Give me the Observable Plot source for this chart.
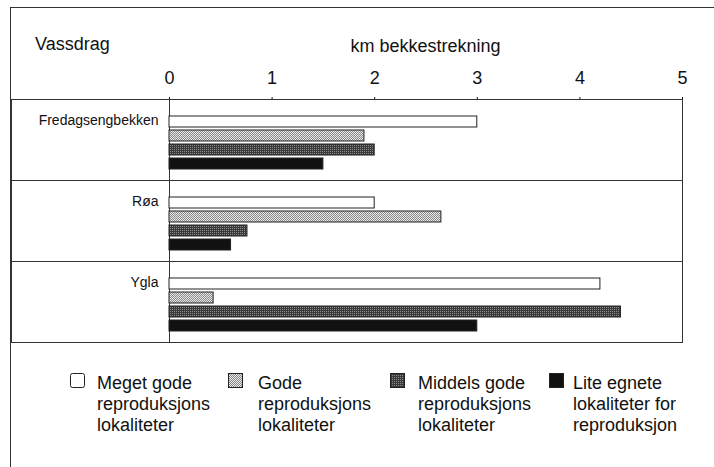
<!DOCTYPE html>
<html>
<head>
<meta charset="utf-8">
<script src="https://cdn.jsdelivr.net/npm/d3@7"></script>
<script src="https://cdn.jsdelivr.net/npm/@observablehq/plot@0.6"></script>
<style>
  html, body { margin: 0; padding: 0; background: #fff; }
  #wrap { position: relative; width: 714px; height: 467px; background: #fff;
          font-family: "Liberation Sans", Arial, sans-serif; color: #111; overflow: hidden; }
  #border { position: absolute; left: 10px; top: 7px; right: -2px; bottom: -2px;
            border-top: 1px solid #333; border-left: 1px solid #333; }
  #chart { position: absolute; left: 0; top: 0; }
  #vassdrag { position: absolute; left: 35px; top: 35px; font-size: 18px; line-height: 1; }
  #xlabel { position: absolute; left: 169px; width: 513px; top: 37px; text-align: center; font-size: 18px; line-height: 1; }
  .leg-sw { position: absolute; width: 15px; height: 15px; }
  .leg-tx { position: absolute; font-size: 18px; line-height: 21px; white-space: nowrap; }
</style>
</head>
<body>
<div id="wrap">
  <div id="border"></div>
  <div id="chart"></div>
  <div id="vassdrag"></div>
  <div id="xlabel"></div>
  <div id="legend"></div>
</div>
<script>
// ---- data ----
const rivers = ["Fredagsengbekken", "Røa", "Ygla"];
const seriesKeys = ["Meget gode", "Gode", "Middels gode", "Lite egnete"];
const seriesLegendLines = [
  ["Meget gode", "reproduksjons", "lokaliteter"],
  ["Gode", "reproduksjons", "lokaliteter"],
  ["Middels gode", "reproduksjons", "lokaliteter"],
  ["Lite egnete", "lokaliteter for", "reproduksjon"]
];
const megetGode = [3.0, 2.0, 4.2];
const gode = [1.9, 2.65, 0.43];
const middelsGode = [2.0, 0.76, 4.4];
const liteEgnete = [1.5, 0.6, 3.0];
const xTicks = [0, 1, 2, 3, 4, 5];
const xLabel = "km bekkestrekning";
const yTitle = "Vassdrag";
const seriesFills = ["#ffffff", "url(#patGode)", "url(#patMiddels)", "#111111"];

const seriesValues = [megetGode, gode, middelsGode, liteEgnete];
const data = [];
rivers.forEach((r, i) => {
  seriesKeys.forEach((s, j) => data.push({river: r, series: s, value: seriesValues[j][i]}));
});

const svg = Plot.plot({
  width: 714,
  height: 360,
  marginTop: 98,
  marginLeft: 169,
  marginRight: 32,
  marginBottom: 17,
  style: {fontFamily: '"Liberation Sans", Arial, sans-serif', fontSize: "18px", color: "#111", background: "transparent", overflow: "visible"},
  x: {domain: [0, 5], ticks: xTicks, axis: "top", label: null,
      tickSize: 3, tickPadding: 13, tickFormat: d => String(d)},
  y: {domain: seriesKeys, axis: null, paddingInner: 0.18, paddingOuter: 0.9, align: 0.6},
  fy: {domain: rivers, axis: null, padding: 0},
  color: {domain: seriesKeys, range: seriesFills},
  marks: [
    Plot.frame({insetLeft: -158, stroke: "#333", strokeWidth: 1}),
    Plot.ruleX([0], {stroke: "#333", strokeWidth: 1}),
    Plot.barX(data, {fy: "river", y: "series", x: "value", fill: "series", stroke: "#222", strokeWidth: 1}),
    Plot.text(rivers, {fy: d => d, text: d => d, frameAnchor: "top-left", textAnchor: "end",
                       lineAnchor: "top", dx: -11, dy: 16, fontSize: 14, fill: "#111"})
  ]
});

// patterns for the textured fills
const defs = d3.select(svg).insert("defs", ":first-child");
const pg = defs.append("pattern").attr("id", "patGode").attr("patternUnits", "userSpaceOnUse")
  .attr("width", 2).attr("height", 2);
pg.append("rect").attr("width", 2).attr("height", 2).attr("fill", "#e8e8e8");
pg.append("rect").attr("width", 1).attr("height", 1).attr("fill", "#8a8a8a");
pg.append("rect").attr("x", 1).attr("y", 1).attr("width", 1).attr("height", 1).attr("fill", "#8a8a8a");
const pm = defs.append("pattern").attr("id", "patMiddels").attr("patternUnits", "userSpaceOnUse")
  .attr("width", 2).attr("height", 2);
pm.append("rect").attr("width", 2).attr("height", 2).attr("fill", "#3a3a3a");
pm.append("rect").attr("width", 1).attr("height", 1).attr("fill", "#8c8c8c");

document.getElementById("chart").appendChild(svg);
document.getElementById("vassdrag").textContent = yTitle;
document.getElementById("xlabel").textContent = xLabel;

// legend
const swX = [70, 228, 390, 549];
const txX = [97, 258, 418, 573];
const legend = document.getElementById("legend");
seriesKeys.forEach((s, i) => {
  const sw = document.createElementNS("http://www.w3.org/2000/svg", "svg");
  sw.setAttribute("class", "leg-sw");
  sw.setAttribute("width", 15); sw.setAttribute("height", 15);
  sw.style.left = swX[i] + "px"; sw.style.top = "373px";
  const r = document.createElementNS("http://www.w3.org/2000/svg", "rect");
  r.setAttribute("x", 0.5); r.setAttribute("y", 0.5); r.setAttribute("width", 14); r.setAttribute("height", 14);
  r.setAttribute("rx", i === 0 ? 2 : 0);
  r.setAttribute("fill", seriesFills[i]); r.setAttribute("stroke", "#222");
  sw.appendChild(r);
  legend.appendChild(sw);
  const tx = document.createElement("div");
  tx.className = "leg-tx";
  tx.style.left = txX[i] + "px"; tx.style.top = "373px";
  tx.innerHTML = seriesLegendLines[i].join("<br>");
  legend.appendChild(tx);
});
</script>
</body>
</html>
